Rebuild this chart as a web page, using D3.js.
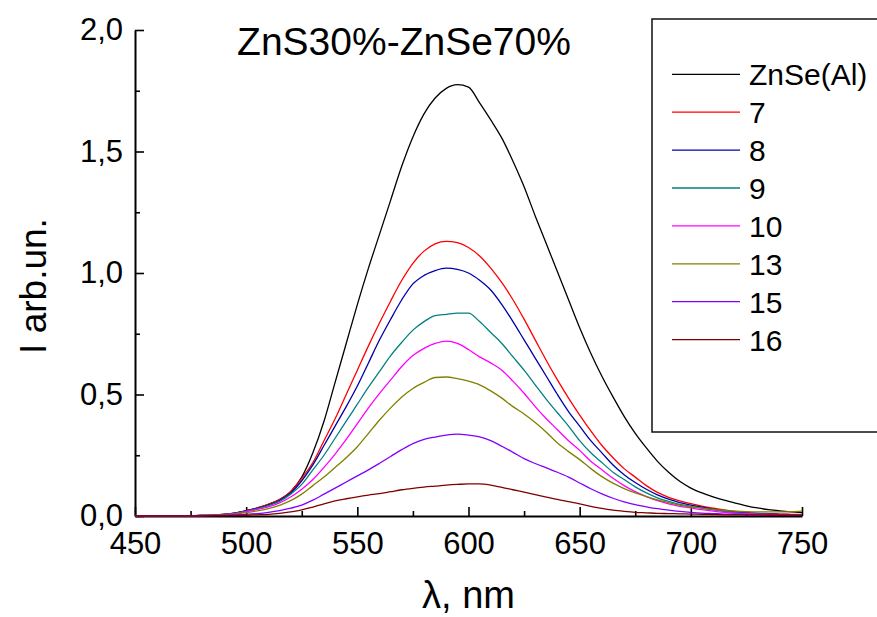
<!DOCTYPE html>
<html>
<head>
<meta charset="utf-8">
<script src="https://cdn.jsdelivr.net/npm/d3@7"></script>
<style>
  html, body { margin: 0; padding: 0; background: #fff; }
  svg { display: block; font-family: "Liberation Sans", Arial, sans-serif; }
</style>
</head>
<body>
<svg id="chart" width="877" height="617"></svg>
<script>
// Photoluminescence spectra, ZnS30%-ZnSe70%
const wavelengths = [450,455,460,465,470,475,480,485,490,495,500,505,510,515,520,525,530,535,540,545,550,555,560,565,570,575,580,585,590,595,600,605,610,615,620,625,630,635,640,645,650,655,660,665,670,675,680,685,690,695,700,705,710,715,720,725,730,735,740,745,750];

const seriesNames = ["ZnSe(Al)", "7", "8", "9", "10", "13", "15", "16"];
const seriesColors = ["#000000", "#ff0000", "#0000a8", "#008080", "#ff00ff", "#808000", "#8000ff", "#800000"];

const znseAl = [0,0,0,0,0.001,0.001,0.002,0.004,0.007,0.012,0.022,0.033,0.048,0.068,0.1,0.16,0.26,0.39,0.55,0.71,0.87,1.02,1.16,1.30,1.44,1.56,1.655,1.72,1.76,1.775,1.765,1.70,1.63,1.555,1.46,1.355,1.235,1.12,1.005,0.89,0.775,0.67,0.575,0.49,0.41,0.34,0.28,0.225,0.18,0.143,0.115,0.095,0.079,0.065,0.053,0.042,0.033,0.026,0.021,0.017,0.014];
const s7 = [0,0,0,0,0.001,0.001,0.002,0.004,0.007,0.012,0.022,0.033,0.048,0.068,0.1,0.155,0.22,0.31,0.40,0.50,0.60,0.70,0.795,0.885,0.97,1.04,1.09,1.12,1.13,1.125,1.105,1.07,1.02,0.96,0.89,0.81,0.725,0.64,0.56,0.485,0.415,0.35,0.29,0.24,0.195,0.16,0.125,0.097,0.077,0.062,0.051,0.041,0.032,0.025,0.019,0.015,0.012,0.01,0.008,0.007,0.006];
const s8 = [0,0,0,0,0.001,0.001,0.002,0.004,0.007,0.012,0.021,0.031,0.045,0.064,0.095,0.145,0.21,0.29,0.37,0.45,0.535,0.63,0.725,0.81,0.89,0.955,0.99,1.01,1.02,1.015,1.00,0.97,0.93,0.87,0.80,0.725,0.65,0.575,0.50,0.43,0.37,0.31,0.26,0.21,0.17,0.138,0.11,0.087,0.069,0.055,0.045,0.036,0.028,0.021,0.016,0.012,0.01,0.008,0.007,0.006,0.005];
const s9 = [0,0,0,0,0.001,0.001,0.002,0.004,0.007,0.011,0.02,0.03,0.043,0.06,0.09,0.13,0.19,0.25,0.32,0.39,0.46,0.53,0.595,0.66,0.715,0.765,0.80,0.825,0.83,0.835,0.835,0.80,0.755,0.71,0.655,0.60,0.54,0.48,0.425,0.37,0.31,0.26,0.22,0.18,0.15,0.12,0.095,0.075,0.06,0.048,0.04,0.032,0.025,0.019,0.014,0.011,0.009,0.007,0.006,0.005,0.005];
const s10 = [0,0,0,0,0.001,0.001,0.002,0.003,0.006,0.01,0.018,0.027,0.038,0.054,0.078,0.11,0.15,0.20,0.255,0.315,0.38,0.445,0.505,0.56,0.615,0.66,0.69,0.71,0.72,0.71,0.685,0.655,0.63,0.60,0.555,0.505,0.45,0.40,0.355,0.31,0.27,0.225,0.19,0.155,0.125,0.10,0.08,0.063,0.05,0.04,0.033,0.026,0.02,0.015,0.011,0.009,0.007,0.006,0.005,0.004,0.004];
const s13 = [0,0,0,0,0.001,0.001,0.002,0.003,0.005,0.008,0.014,0.021,0.03,0.044,0.063,0.09,0.125,0.16,0.20,0.24,0.285,0.34,0.395,0.445,0.49,0.525,0.55,0.57,0.572,0.565,0.555,0.54,0.515,0.485,0.45,0.42,0.385,0.345,0.30,0.265,0.232,0.195,0.162,0.135,0.113,0.095,0.08,0.066,0.055,0.045,0.038,0.032,0.027,0.023,0.02,0.018,0.017,0.017,0.017,0.018,0.02];
const s15 = [0,0,0,0,0,0.001,0.001,0.002,0.003,0.005,0.007,0.01,0.015,0.022,0.032,0.045,0.065,0.09,0.115,0.14,0.165,0.19,0.217,0.245,0.273,0.298,0.315,0.325,0.333,0.337,0.333,0.326,0.31,0.287,0.262,0.236,0.216,0.198,0.18,0.16,0.136,0.112,0.091,0.073,0.058,0.047,0.038,0.03,0.024,0.019,0.015,0.012,0.01,0.008,0.007,0.006,0.005,0.004,0.004,0.003,0.003];
const s16 = [0,0,0,0,0,0,0,0.001,0.001,0.002,0.003,0.005,0.007,0.011,0.017,0.025,0.037,0.05,0.062,0.071,0.079,0.086,0.092,0.1,0.108,0.114,0.119,0.123,0.127,0.13,0.132,0.132,0.127,0.118,0.108,0.098,0.088,0.078,0.068,0.059,0.05,0.04,0.031,0.024,0.019,0.015,0.013,0.011,0.01,0.009,0.008,0.007,0.006,0.005,0.005,0.004,0.004,0.003,0.003,0.003,0.003];

const seriesValues = [znseAl, s7, s8, s9, s10, s13, s15, s16];

const xMajorTicks = [450, 500, 550, 600, 650, 700, 750];
const xTickLabels = ["450", "500", "550", "600", "650", "700", "750"];
const xMinorTicks = [475, 525, 575, 625, 675, 725];
const yMajorTicks = [0, 0.5, 1.0, 1.5, 2.0];
const yTickLabels = ["0,0", "0,5", "1,0", "1,5", "2,0"];
const yMinorTicks = [0.25, 0.75, 1.25, 1.75];

const titleText = "ZnS30%-ZnSe70%";
const xTitle = "\u03bb, nm";
const yTitle = "I arb.un.";

const svg = d3.select("#chart");

const x = d3.scaleLinear().domain([450, 750]).range([135, 802]);
const y = d3.scaleLinear().domain([0, 2]).range([516, 30]);

// Axes: ticks point inward, decimal comma labels
const axisG = svg.append("g");

axisG.append("g")
  .attr("transform", `translate(${x.range()[0]},0)`)
  .call(d3.axisLeft(y).tickValues(yMajorTicks).tickFormat((d, i) => yTickLabels[i])
    .tickSize(-9).tickSizeOuter(0).tickPadding(12));
axisG.append("g")
  .attr("transform", `translate(${x.range()[0]},0)`)
  .call(d3.axisLeft(y).tickValues(yMinorTicks).tickFormat("").tickSize(-5).tickSizeOuter(0))
  .call(g => g.select(".domain").remove());

axisG.append("g")
  .attr("transform", `translate(0,${y.range()[0]})`)
  .call(d3.axisBottom(x).tickValues(xMajorTicks).tickFormat((d, i) => xTickLabels[i])
    .tickSize(-9).tickSizeOuter(0).tickPadding(16));
axisG.append("g")
  .attr("transform", `translate(0,${y.range()[0]})`)
  .call(d3.axisBottom(x).tickValues(xMinorTicks).tickFormat("").tickSize(-5).tickSizeOuter(0))
  .call(g => g.select(".domain").remove());

axisG.selectAll(".domain").attr("stroke", "#000").attr("stroke-width", 2);
axisG.selectAll(".tick line").attr("stroke", "#000").attr("stroke-width", 1.6);
axisG.selectAll(".tick text")
  .attr("fill", "#000")
  .style("font-family", "'Liberation Sans', Arial, sans-serif")
  .style("font-size", "31px");

// Spectra
const line = d3.line()
  .x((d, i) => x(wavelengths[i]))
  .y(d => y(d))
  .curve(d3.curveMonotoneX);

svg.append("g").selectAll("path")
  .data(seriesValues)
  .join("path")
  .attr("d", d => line(d))
  .attr("fill", "none")
  .attr("stroke", (d, i) => seriesColors[i])
  .attr("stroke-width", 1.3);

// Title and axis titles
svg.append("text")
  .attr("x", 404).attr("y", 55)
  .attr("text-anchor", "middle")
  .style("font-size", "39px")
  .text(titleText);

svg.append("text")
  .attr("x", (x.range()[0] + x.range()[1]) / 2).attr("y", 608)
  .attr("text-anchor", "middle")
  .style("font-size", "38px")
  .text(xTitle);

svg.append("text")
  .attr("transform", "translate(46,286) rotate(-90)")
  .attr("text-anchor", "middle")
  .style("font-size", "37px")
  .text(yTitle);

// Legend
const legend = svg.append("g");
legend.append("rect")
  .attr("x", 652).attr("y", 19)
  .attr("width", 300).attr("height", 413)
  .attr("fill", "#fff")
  .attr("stroke", "#111")
  .attr("stroke-width", 1.5);

const rowY = i => 74.3 + i * 37.9;
const rows = legend.selectAll("g.row")
  .data(seriesNames)
  .join("g")
  .attr("class", "row");
rows.append("line")
  .attr("x1", 672).attr("x2", 740)
  .attr("y1", (d, i) => rowY(i)).attr("y2", (d, i) => rowY(i))
  .attr("stroke", (d, i) => seriesColors[i])
  .attr("stroke-width", 1.3);
rows.append("text")
  .attr("x", 749)
  .attr("y", (d, i) => rowY(i) + 11)
  .style("font-size", "30px")
  .text(d => d);
</script>
</body>
</html>
